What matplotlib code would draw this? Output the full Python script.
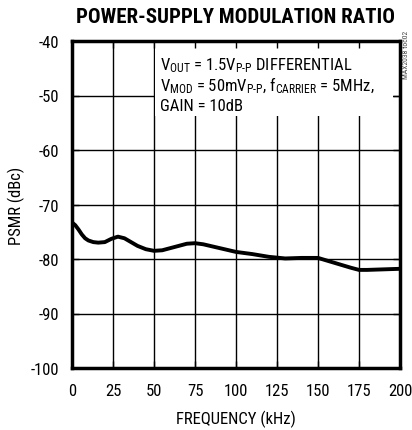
import matplotlib
matplotlib.use("Agg")
import matplotlib.pyplot as plt
from matplotlib.patches import Rectangle

# ---- data ----
freq_khz = [0, 2, 4, 6, 8, 10, 13, 16, 20, 24, 28, 32, 36, 40, 45, 50, 55, 60,
            65, 70, 75, 80, 90, 100, 110, 120, 130, 140, 150, 160, 170, 175,
            180, 190, 200]
psmr_dbc = [-73.3, -73.8, -74.6, -75.5, -76.2, -76.6, -76.9, -77.0, -76.9,
            -76.3, -75.9, -76.2, -76.9, -77.6, -78.2, -78.5, -78.4, -78.0,
            -77.6, -77.2, -77.1, -77.3, -78.0, -78.7, -79.1, -79.6, -79.9,
            -79.8, -79.8, -80.7, -81.6, -82.0, -82.0, -81.9, -81.8]
x_ticks = [0, 25, 50, 75, 100, 125, 150, 175, 200]
y_ticks = [-100, -90, -80, -70, -60, -50, -40]

FONT = ['Roboto Condensed', 'DejaVu Sans']
plt.rcParams['font.family'] = FONT
plt.rcParams['font.stretch'] = 'condensed'
plt.rcParams['mathtext.fontset'] = 'custom'
plt.rcParams['mathtext.rm'] = 'Roboto Condensed'
plt.rcParams['mathtext.it'] = 'Roboto Condensed'

fig = plt.figure(figsize=(4.12, 4.31), dpi=100)
ax = fig.add_axes([72/412, 62/431, 328/412, 327/431])

ax.set_xlim(0, 200)
ax.set_ylim(-100, -40)
ax.set_xticks(x_ticks)
ax.set_yticks(y_ticks)
ax.set_xticklabels([str(v) for v in x_ticks], fontsize=12)
ax.set_yticklabels([str(v) for v in y_ticks], fontsize=12)

for v in x_ticks[1:-1]:
    ax.axvline(v, color='black', lw=1.0, zorder=1)
for v in y_ticks[1:-1]:
    ax.axhline(v, color='black', lw=1.0, zorder=1)

ax.set_axisbelow(False)
ax.tick_params(direction='in', length=5, width=1.0, top=True, right=True,
               colors='black')
ax.tick_params(axis='x', pad=11)
ax.tick_params(axis='y', pad=9.5)
for s in ax.spines.values():
    s.set_linewidth(2.5)
    s.set_zorder(4)

ax.plot(freq_khz, psmr_dbc, color='black', lw=2.8, zorder=3,
        solid_capstyle='butt')

# white box behind annotation text
ax.add_patch(Rectangle((155/412, 314/431), 238/412, 75/431,
                       transform=fig.transFigure, facecolor='white',
                       edgecolor='none', zorder=2))

fs = 12
fig.text(160/412, 1 - 70/431,
         r'$\mathregular{V_{OUT}}$ = 1.5$\mathregular{V_{P\text{-}P}}$ DIFFERENTIAL',
         fontsize=fs, va='baseline', ha='left', zorder=5)
fig.text(160/412, 1 - 91/431,
         r'$\mathregular{V_{MOD}}$ = 50m$\mathregular{V_{P\text{-}P}}$, $\mathregular{f_{CARRIER}}$ = 5MHz,',
         fontsize=fs, va='baseline', ha='left', zorder=5)
fig.text(160/412, 1 - 111/431, 'GAIN = 10dB',
         fontsize=fs, va='baseline', ha='left', zorder=5)

fig.text(236/412, 1 - 23/431, 'POWER-SUPPLY MODULATION RATIO',
         fontsize=15, fontweight='black', ha='center', va='baseline')
ax.set_xlabel('FREQUENCY (kHz)', fontsize=12, labelpad=8)
ax.set_ylabel('PSMR (dBc)', fontsize=12, labelpad=4)

fig.text(406/412, 1 - 55/431, 'MAX2038 toc02', rotation=90, fontsize=5.5,
         color='#444444', ha='center', va='center')

fig.savefig('out.png', dpi=100)
